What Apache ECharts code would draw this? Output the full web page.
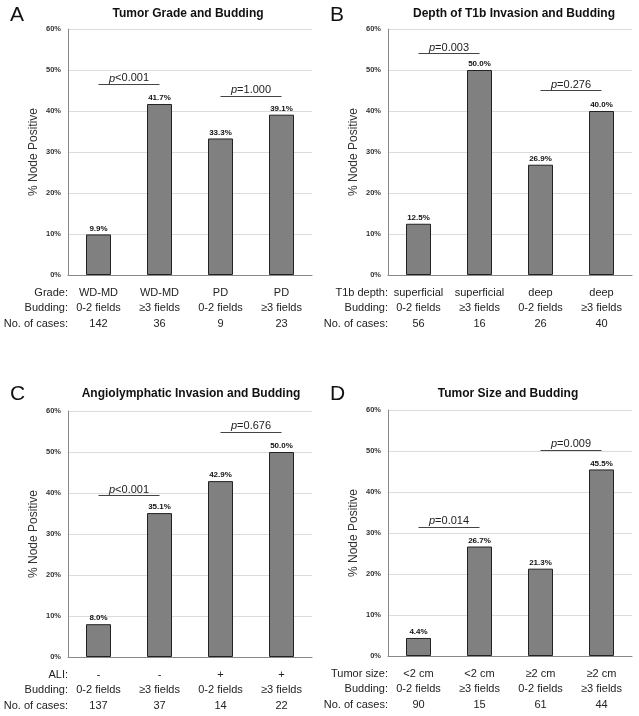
<!DOCTYPE html>
<html>
<head>
<meta charset="utf-8">
<script src="https://cdn.jsdelivr.net/npm/echarts@6/dist/echarts.min.js"></script>
<style>
  html, body { margin: 0; padding: 0; background: #fff; }
  #main { width: 639px; height: 716px; }
</style>
</head>
<body>
<div id="main"></div>
<script>
// panel texts
var letters = ['A', 'B', 'C', 'D'];
var titles = ['Tumor Grade and Budding', 'Depth of T1b Invasion and Budding',
  'Angiolymphatic Invasion and Budding', 'Tumor Size and Budding'];
var rowHeadA = ['Grade:', 'Budding:', 'No. of cases:'];
var rowHeadB = ['T1b depth:', 'Budding:', 'No. of cases:'];
var rowHeadC = ['ALI:', 'Budding:', 'No. of cases:'];
var rowHeadD = ['Tumor size:', 'Budding:', 'No. of cases:'];

// categories
var groupA = ['WD-MD', 'WD-MD', 'PD', 'PD'];
var groupB = ['superficial', 'superficial', 'deep', 'deep'];
var groupC = ['-', '-', '+', '+'];
var groupD = ['<2 cm', '<2 cm', '\u22652 cm', '\u22652 cm'];
var budding = ['0-2 fields', '\u22653 fields', '0-2 fields', '\u22653 fields'];

// no. of cases
var casesA = [142, 36, 9, 23];
var casesB = [56, 16, 26, 40];
var casesC = [137, 37, 14, 22];
var casesD = [90, 15, 61, 44];

// % node positive
var valuesA = [9.9, 41.7, 33.3, 39.1];
var valuesB = [12.5, 50.0, 26.9, 40.0];
var valuesC = [8.0, 35.1, 42.9, 50.0];
var valuesD = [4.4, 26.7, 21.3, 45.5];

// p-value brackets: text and height (%)
var pTextA = ['<0.001', '=1.000'];
var pLevelA = [46.6, 43.7];
var pTextB = ['=0.003', '=0.276'];
var pLevelB = [54.1, 45.1];
var pTextC = ['<0.001', '=0.676'];
var pLevelC = [39.4, 54.9];
var pTextD = ['=0.014', '=0.009'];
var pLevelD = [31.5, 50.3];
var pPairs = [[0, 1], [2, 3]];

var yMin = 0, yMax = 60, yStep = 10;

var FONT = 'Liberation Sans, Arial, sans-serif';

var panels = [
  { group: groupA, cases: casesA, values: valuesA, head: rowHeadA, pText: pTextA, pLevel: pLevelA },
  { group: groupB, cases: casesB, values: valuesB, head: rowHeadB, pText: pTextB, pLevel: pLevelB },
  { group: groupC, cases: casesC, values: valuesC, head: rowHeadC, pText: pTextC, pLevel: pLevelC },
  { group: groupD, cases: casesD, values: valuesD, head: rowHeadD, pText: pTextD, pLevel: pLevelD }
];

// layout of the four panels
var boxes = [
  { left: 68, top: 29, width: 244, height: 246, letterY: 15, titleX: 188, titleY: 14 },
  { left: 388, top: 29, width: 244, height: 246, letterY: 15, titleX: 514, titleY: 14 },
  { left: 68, top: 411, width: 244, height: 246, letterY: 394, titleX: 191, titleY: 394 },
  { left: 388, top: 410, width: 244, height: 246, letterY: 394, titleX: 508, titleY: 394 }
];

var grids = [], xAxes = [], yAxes = [], series = [], graphics = [];

panels.forEach(function(p, i) {
  var b = boxes[i];
  grids.push({ left: b.left, top: b.top, width: b.width, height: b.height });

  xAxes.push({
    type: 'category',
    gridIndex: i,
    data: p.group.map(function(g, k) { return g + '\n' + budding[k] + '\n' + p.cases[k]; }),
    axisLine: { lineStyle: { color: '#888' } },
    axisTick: { show: false },
    axisLabel: { color: '#222', fontFamily: FONT, fontSize: 11, lineHeight: 15.5, margin: 10, interval: 0 }
  });

  yAxes.push({
    type: 'value',
    gridIndex: i,
    min: yMin, max: yMax, interval: yStep,
    name: '% Node Positive',
    nameLocation: 'middle',
    nameGap: 28,
    nameTextStyle: { color: '#333', fontFamily: FONT, fontSize: 12 },
    axisLine: { show: true, lineStyle: { color: '#888' } },
    axisTick: { show: false },
    splitLine: { lineStyle: { color: '#dcdcdc' } },
    axisLabel: { formatter: '{value}%', color: '#333', fontFamily: FONT, fontSize: 7.5, fontWeight: 'bold', margin: 7 }
  });

  series.push({
    type: 'bar',
    xAxisIndex: i,
    yAxisIndex: i,
    data: p.values,
    barWidth: 25,
    itemStyle: { color: '#808080', borderColor: '#222', borderWidth: 1 },
    label: {
      show: true, position: 'top', distance: 2,
      color: '#111', fontFamily: FONT, fontSize: 8, fontWeight: 'bold',
      formatter: function(d) { return d.value.toFixed(1) + '%'; }
    },
    markLine: {
      silent: true,
      symbol: ['none', 'none'],
      lineStyle: { color: '#444', width: 1, type: 'solid' },
      label: {
        show: true, position: 'middle', distance: 0,
        color: '#222', fontFamily: FONT, fontSize: 11,
        rich: { i: { fontStyle: 'italic', fontFamily: FONT, fontSize: 11, color: '#222' } }
      },
      data: pPairs.map(function(pr, k) {
        return [
          { coord: [pr[0], p.pLevel[k]], label: { formatter: '{i|p}' + p.pText[k] } },
          { coord: [pr[1], p.pLevel[k]] }
        ];
      })
    }
  });

  graphics.push({
    type: 'text', x: b.left - 58, y: b.letterY,
    style: { text: letters[i], font: '21px ' + FONT, fill: '#111', textAlign: 'left', textVerticalAlign: 'middle' }
  });
  graphics.push({
    type: 'text', x: b.titleX, y: b.titleY,
    style: { text: titles[i], font: 'bold 12px ' + FONT, fill: '#111', textAlign: 'center', textVerticalAlign: 'middle' }
  });
  p.head.forEach(function(h, r) {
    graphics.push({
      type: 'text', x: b.left, y: b.top + b.height + 17.75 + r * 15.5,
      style: { text: h, font: '11px ' + FONT, fill: '#222', textAlign: 'right', textVerticalAlign: 'middle' }
    });
  });
});

var myChart = echarts.init(document.getElementById('main'));
myChart.setOption({
  animation: false,
  backgroundColor: '#fff',
  grid: grids,
  xAxis: xAxes,
  yAxis: yAxes,
  series: series,
  graphic: graphics
});
</script>
</body>
</html>
